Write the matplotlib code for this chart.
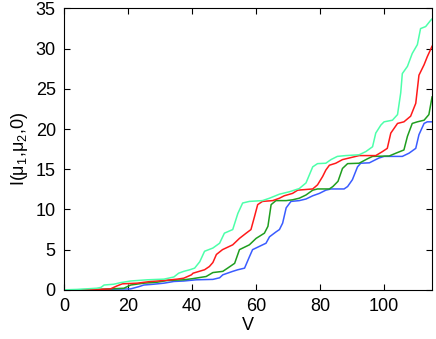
import matplotlib
matplotlib.use("Agg")
import matplotlib.pyplot as plt

plt.rcParams['font.family'] = ['Liberation Sans', 'DejaVu Sans']
plt.rcParams['mathtext.fontset'] = 'custom'
plt.rcParams['mathtext.rm'] = 'Liberation Sans'
plt.rcParams['mathtext.it'] = 'Liberation Sans'

# values
v_cyan = [0, 4, 10.2, 11.5, 12.5, 15.5, 17.7, 20.8, 26, 31.2, 34.3, 35.8, 37.4, 39.3, 40.8,
          42.4, 43.9, 46.5, 48.6, 50.1, 52.7, 54.3, 55.8, 57.9, 62, 64.2, 67.3, 70.4, 73.5,
          75.6, 77.7, 79.2, 81.8, 83.4, 85.4, 88, 92.2, 94.3, 96.4, 97.4, 99, 100, 102.6,
          104.2, 105.2, 105.7, 107.3, 108.8, 110.4, 111.4, 113, 114.5, 115]
i_cyan = [0, 0.05, 0.2, 0.3, 0.6, 0.7, 0.9, 1.1, 1.25, 1.33, 1.6, 2.07, 2.3, 2.5, 2.7,
          3.5, 4.8, 5.2, 5.8, 7.05, 7.5, 9.5, 10.8, 11.0, 11.1, 11.4, 11.9, 12.2, 12.6,
          13.3, 15.3, 15.7, 15.75, 16.2, 16.6, 16.7, 16.8, 17.2, 17.8, 19.5, 20.5, 20.9, 21.1,
          21.8, 24.5, 26.9, 27.8, 29.4, 30.5, 32.5, 32.75, 33.5, 33.7]

v_red = [0, 3, 10.4, 14.5, 16.6, 18.2, 22.8, 27, 31.2, 35.3, 37.4, 39.8, 40.3, 43.9, 45.4,
         46.5, 47.6, 49.5, 52.7, 54.8, 56.9, 58.4, 59.5, 60.5, 62, 65.2, 67.3, 68.8, 71.4,
         73, 77.7, 79.2, 80.8, 81.8, 82.9, 84.9, 87, 89.1, 92.2, 97.4, 99.5, 101, 102.1,
         104.2, 106.2, 108.3, 109.9, 110.9, 112.5, 113.5, 115]
i_red = [0, 0, 0.04, 0.12, 0.5, 0.75, 0.83, 1.04, 1.16, 1.33, 1.45, 1.87, 2.07, 2.5, 2.9,
         3.4, 4.4, 5.0, 5.6, 6.4, 7.05, 7.5, 9.1, 10.6, 11.0, 11.1, 11.4, 11.7, 12.0,
         12.4, 12.55, 13.06, 14.1, 14.9, 15.5, 15.75, 16.2, 16.4, 16.7, 16.7, 17.2, 17.6, 19.5,
         20.7, 20.9, 21.6, 23.2, 26.7, 28.0, 29.0, 30.3]

v_green = [0, 8.3, 12.5, 18.7, 20.8, 24.9, 29.1, 32.2, 37.4, 40.3, 44.4, 46.5, 49.6, 51.1,
           53.3, 54.8, 57.9, 60, 62.6, 63.7, 64.7, 66.2, 69.4, 71.4, 73.5, 75.6, 77.7, 79.2,
           82.9, 84, 85.6, 87, 88.6, 92.2, 94.8, 96.4, 101.6, 103.7, 106.2, 107.3, 108.8,
           110.4, 112.5, 114, 115]
i_green = [0, 0, 0.08, 0.2, 0.6, 0.83, 0.95, 1.16, 1.25, 1.4, 1.66, 2.15, 2.3, 2.7,
           3.3, 5.0, 5.6, 6.4, 7.05, 7.9, 10.6, 11.1, 11.1, 11.2, 11.4, 11.8, 12.4, 12.55,
           12.55, 12.85, 13.5, 15.1, 15.7, 15.75, 16.3, 16.6, 16.65, 17.0, 17.4, 19.1, 20.7,
           20.9, 21.1, 21.8, 24.0]

v_blue = [0, 10.4, 14.5, 20.8, 23.4, 24.9, 28, 31.2, 34.3, 37.4, 41.3, 46.5, 48.6, 49.6,
          52.7, 54.3, 56.4, 57.9, 58.9, 61, 63.1, 64.2, 66.2, 67.3, 68.3, 69.4, 70.9, 73.5,
          75.6, 77.7, 79.8, 81.8, 83.4, 87.5, 88.6, 90.1, 91.7, 92.7, 95.4, 96.9, 98.4, 100,
          105.7, 107.8, 109.9, 110.9, 112.5, 113.5, 115]
i_blue = [0, 0, 0.08, 0.12, 0.4, 0.6, 0.7, 0.83, 1.04, 1.1, 1.25, 1.3, 1.5, 1.87,
          2.3, 2.5, 2.7, 4.1, 5.0, 5.4, 5.8, 6.6, 7.2, 7.5, 8.3, 10.2, 11.0, 11.1,
          11.3, 11.7, 12.0, 12.4, 12.55, 12.55, 12.85, 13.7, 15.3, 15.75, 15.8, 16.1, 16.4, 16.6,
          16.6, 17.0, 17.6, 19.3, 20.7, 20.9, 20.9]

fig = plt.figure(figsize=(4.36, 3.39), dpi=100)
ax = fig.add_axes([0.147, 0.145, 0.844, 0.83])

ax.plot(v_blue, i_blue, color='#3a5cff', lw=1.1)
ax.plot(v_green, i_green, color='#1f9e1f', lw=1.1)
ax.plot(v_red, i_red, color='#ff1a1a', lw=1.1)
ax.plot(v_cyan, i_cyan, color='#4dffaa', lw=1.1)

ax.set_xlim(0, 115)
ax.set_ylim(0, 35)
ax.set_xticks([0, 20, 40, 60, 80, 100])
ax.set_yticks([0, 5, 10, 15, 20, 25, 30, 35])
ax.tick_params(direction='in', top=True, right=True, length=4, labelsize=13)
ax.tick_params(axis='x', pad=6)
ax.tick_params(axis='y', pad=6)
ax.set_xlabel('V', fontsize=13, labelpad=1)
ax.set_ylabel('I(μ$_1$,μ$_2$,0)', fontsize=13, labelpad=4)

fig.savefig('out.png', dpi=100)
